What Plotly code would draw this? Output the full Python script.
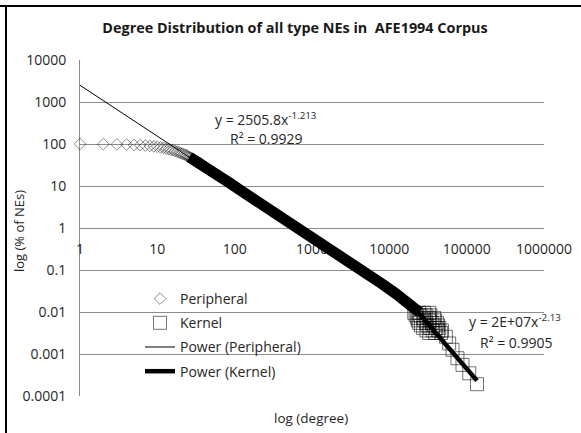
import plotly.graph_objects as go

# ---------------- data ----------------
# Peripheral NEs: individually visible points, degree vs % of NEs
peripheral_degree = [1, 2, 3, 4, 5, 6, 7, 8, 9, 10, 11, 12, 13, 14, 15,
                     16, 17, 18, 19, 20, 21, 22, 23, 24, 25, 26, 27, 28, 29, 30,
                     32, 34, 36, 38, 40, 43, 46, 50]
peripheral_pct = [100, 99, 98, 97, 95, 94, 92, 90, 88, 86, 83, 81, 78, 76, 73,
                  71, 68, 66, 63, 61, 59, 57, 55, 53, 51, 49, 47, 45, 44, 42,
                  39.5, 37, 35, 32.5, 30, 27.5, 25, 22.5]

# Peripheral NEs: dense region where the markers merge into a solid band
peripheral_band_degree = [26, 30, 40, 60, 85, 120, 230, 400, 630, 1000, 1660,
                          3000, 4500, 8000, 12300, 18000, 24500]
peripheral_band_pct = [49, 42, 30, 18.5, 12, 7.8, 3.6, 1.9, 1.05, 0.58, 0.31,
                       0.155, 0.092, 0.047, 0.027, 0.0165, 0.0098]

# Kernel NEs
kernel_degree = [21000, 24300, 28200, 32800,
                 21900, 25100, 29500, 33900,
                 22900, 27400, 32800, 38000,
                 23400, 28200, 33100, 38900,
                 24300, 30000, 35800, 41500,
                 25700, 30900, 37200, 42700,
                 27400, 33800, 40400, 44200,
                 30200, 36300, 42700, 47900,
                 32800, 39200, 46800,
                 53800, 59400, 65600, 76000, 88300, 108000, 136000]
kernel_pct = [0.00955, 0.00955, 0.00955, 0.00955,
              0.00832, 0.00832, 0.00832, 0.00832,
              0.00724, 0.00724, 0.00724, 0.00724,
              0.00631, 0.00631, 0.00631, 0.00631,
              0.00550, 0.00550, 0.00550, 0.00550,
              0.00479, 0.00479, 0.00479, 0.00479,
              0.00417, 0.00417, 0.00417, 0.00417,
              0.00363, 0.00363, 0.00363, 0.00363,
              0.00316, 0.00316, 0.00316,
              0.00257, 0.00178, 0.00126, 0.000794, 0.000550, 0.000347, 0.000191]

# Power trendlines y = a * x^b (as printed on the chart)
peripheral_fit_a, peripheral_fit_b, peripheral_fit_r2 = 2505.8, -1.213, 0.9929
kernel_fit_a, kernel_fit_b, kernel_fit_r2 = 2e7, -2.13, 0.9905

x_tick_values = [1, 10, 100, 1000, 10000, 100000, 1000000]
x_tick_labels = ["1", "10", "100", "1000", "10000", "100000", "1000000"]
y_tick_values = [0.0001, 0.001, 0.01, 0.1, 1, 10, 100, 1000, 10000]
y_tick_labels = ["0.0001", "0.001", "0.01", "0.1", "1", "10", "100", "1000", "10000"]

# ---------------- figure ----------------
FONT = "Open Sans"
TXT = "#262626"
W, H = 581, 433
L, R, T, B = 80, 37, 60, 37
PW, PH = W - L - R, H - T - B


def px_x(p):
    return (p - L) / PW


def px_y(p):
    return (H - B - p) / PH


fig = go.Figure()

# dense band of peripheral markers
fig.add_trace(go.Scatter(
    x=peripheral_band_degree, y=peripheral_band_pct, mode="lines",
    line=dict(color="black", width=11), showlegend=False,
    legendgroup="p", hoverinfo="skip"))

fig.add_trace(go.Scatter(
    x=peripheral_degree, y=peripheral_pct, mode="markers", name="Peripheral",
    legendgroup="p", cliponaxis=False,
    marker=dict(symbol="diamond-open", size=9,
                line=dict(color="rgba(0,0,0,0.45)", width=1),
                color="rgba(0,0,0,0.45)")))

fig.add_trace(go.Scatter(
    x=kernel_degree, y=kernel_pct, mode="markers", name="Kernel",
    legendgroup="k", cliponaxis=False,
    marker=dict(symbol="square-open", size=13,
                line=dict(color="rgba(0,0,0,0.55)", width=1),
                color="rgba(0,0,0,0.55)")))

p_x0 = min(peripheral_degree)
p_x1 = max(peripheral_band_degree)
fig.add_trace(go.Scatter(
    x=[p_x0, p_x1],
    y=[peripheral_fit_a * p_x0 ** peripheral_fit_b,
       peripheral_fit_a * p_x1 ** peripheral_fit_b],
    mode="lines", name="Power (Peripheral)", legendgroup="pp",
    line=dict(color="black", width=1)))

k_x0 = min(kernel_degree)
k_x1 = max(kernel_degree)
fig.add_trace(go.Scatter(
    x=[k_x0, k_x1],
    y=[kernel_fit_a * k_x0 ** kernel_fit_b, kernel_fit_a * k_x1 ** kernel_fit_b],
    mode="lines", name="Power (Kernel)", legendgroup="pk",
    line=dict(color="black", width=4.5)))

fig.update_layout(
    width=W, height=H,
    margin=dict(l=L, r=R, t=T, b=B, pad=0),
    paper_bgcolor="white", plot_bgcolor="white",
    font=dict(family=FONT, size=13, color=TXT),
    title=dict(text="Degree Distribution of all type NEs in  AFE1994 Corpus",
               font=dict(family=FONT, size=14.4, color="#1a1a1a", weight="bold"),
               x=295 / W, xref="container", xanchor="center",
               y=1 - 28 / H, yref="container", yanchor="middle"),
    showlegend=True,
    legend=dict(x=px_x(140), y=px_y(283), xanchor="left", yanchor="top",
                bgcolor="rgba(0,0,0,0)", borderwidth=0,
                traceorder="grouped", tracegroupgap=3,
                font=dict(family=FONT, size=14, color=TXT)),
    xaxis=dict(type="log", range=[0, 6], anchor="free", position=0.5,
               tickvals=x_tick_values, ticktext=x_tick_labels,
               showgrid=False, zeroline=False, showline=False, ticks="",
               ticklabelstandoff=11, layer="below traces", automargin=False,
               tickfont=dict(family=FONT, size=14, color=TXT)),
    yaxis=dict(type="log", range=[-4, 4],
               tickvals=y_tick_values, ticktext=y_tick_labels,
               showgrid=True, gridcolor="#8c8c8c", gridwidth=1,
               zeroline=False, showline=True, linecolor="#8c8c8c", linewidth=1,
               ticks="", ticklabelstandoff=10, layer="below traces",
               automargin=False,
               tickfont=dict(family=FONT, size=14, color=TXT)),
)

ann = dict(xref="paper", yref="paper", showarrow=False,
           xanchor="center", yanchor="middle")

# trendline equations
fig.add_annotation(x=px_x(266), y=px_y(119),
                   text=f"y = {peripheral_fit_a}x<sup>{peripheral_fit_b}</sup>",
                   font=dict(size=14, color=TXT), **ann)
fig.add_annotation(x=px_x(266), y=px_y(138),
                   text=f"R² = {peripheral_fit_r2}",
                   font=dict(size=14, color=TXT), **ann)
fig.add_annotation(x=px_x(515), y=px_y(321),
                   text=f"y = 2E+07x<sup>{kernel_fit_b}</sup>",
                   font=dict(size=14, color=TXT), **ann)
fig.add_annotation(x=px_x(516), y=px_y(342),
                   text=f"R² = {kernel_fit_r2}",
                   font=dict(size=14, color=TXT), **ann)

# axis titles
fig.add_annotation(x=px_x(19), y=px_y(231),
                   text="log (% of NEs)", textangle=-90,
                   font=dict(size=13, color=TXT), **ann)
fig.add_annotation(x=px_x(311), y=px_y(418),
                   text="log (degree)",
                   font=dict(size=13.5, color=TXT), **ann)

# chart frame (top and left edges visible in the reference)
fig.add_shape(type="line", xref="paper", yref="paper",
              x0=px_x(0), x1=px_x(W), y0=px_y(6), y1=px_y(6),
              line=dict(color="black", width=2))
fig.add_shape(type="line", xref="paper", yref="paper",
              x0=px_x(6), x1=px_x(6), y0=px_y(6), y1=px_y(H),
              line=dict(color="black", width=2))

fig.write_html("out.html")
